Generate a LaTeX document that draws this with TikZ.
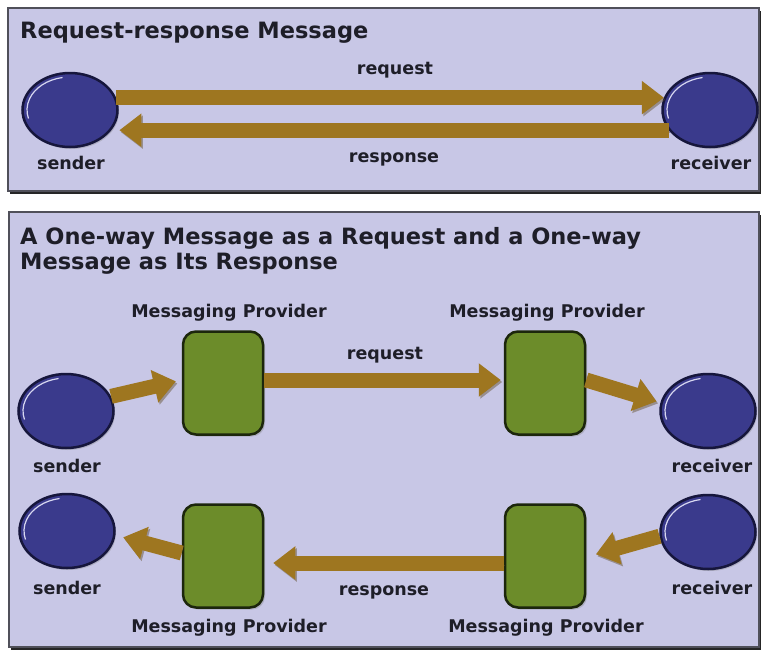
\documentclass[tikz,border=0pt]{standalone}
\usepackage{fontspec}
\setmainfont{DejaVu Sans}
\usetikzlibrary{arrows.meta,shadows,shapes.geometric}
\definecolor{panelbg}{RGB}{200,199,230}
\definecolor{paneledge}{RGB}{80,80,90}
\definecolor{endfill}{RGB}{58,58,140}
\definecolor{endedge}{RGB}{22,22,60}
\definecolor{endshine}{RGB}{215,215,240}
\definecolor{provfill}{RGB}{108,140,42}
\definecolor{provedge}{RGB}{28,38,12}
\definecolor{arrowfill}{RGB}{158,118,32}
\definecolor{arrowshade}{RGB}{95,75,40}
\definecolor{inktext}{RGB}{30,30,40}
\tikzset{
  panel/.style={fill=panelbg,draw=paneledge,line width=1.2pt,drop shadow={shadow xshift=1.5pt,shadow yshift=-3pt,fill=black!85,opacity=1}},
  endpoint/.style={ellipse,minimum width=95pt,minimum height=74pt,inner sep=0pt,fill=endfill,draw=endedge,line width=2.5pt,drop shadow={shadow xshift=1.5pt,shadow yshift=-2pt,opacity=.35}},
  provider/.style={rectangle,rounded corners=13pt,minimum width=80pt,minimum height=103pt,fill=provfill,draw=provedge,line width=2.5pt,drop shadow={shadow xshift=2pt,shadow yshift=-2pt,opacity=.35}},
  flow/.style={draw=arrowfill,line width=15pt,-{Triangle[width=32pt,length=22pt]},preaction={draw=arrowshade,opacity=.45,transform canvas={shift={(1.5pt,-2pt)}}}},
  title/.style={font=\bfseries\fontsize{22.5}{25}\selectfont,text=inktext,inner sep=0pt},
  tag/.style={font=\bfseries\fontsize{17.5}{20}\selectfont,text=inktext,inner sep=0pt}
}
\newcommand{\shine}[1]{\draw[endshine,line width=1.2pt] ([shift={(100:43pt and 33pt)}]#1.center) arc[start angle=100,end angle=195,x radius=43pt,y radius=33pt];}

\begin{document}
\begin{tikzpicture}[x=1pt,y=-1pt]
\useasboundingbox (0,0) rectangle (766,654);
\fill[white] (0,0) rectangle (766,654);
\draw[panel] (8,8) rectangle (759,191);
\draw[panel] (9,212) rectangle (759,647);
\node[title,anchor=base west] (t1) at (20,38) {Request-response Message};
\node[title,anchor=north west,align=left] (t2) at (20,227) {A One-way Message as a Request and a One-way\\Message as Its Response};
\node[endpoint] (s1) at (70,110) {}; \shine{s1}
\node[endpoint] (r1) at (710,110) {}; \shine{r1}
\draw[flow] (s1.15) -- (r1.165);
\draw[flow,shorten >=8pt] (r1.206) -- (s1.-26);
\node[tag] (l1) at (71,163) {sender}; \node[tag] (l2) at (711,163) {receiver};
\node[tag] (l3) at (395,70) {request}; \node[tag] (l4) at (394,159) {response};
\node[endpoint] (s2) at (66,411) {}; \shine{s2}
\node[provider] (p1) at (223,383) {};
\node[provider] (p2) at (545,383) {};
\node[endpoint] (r2) at (708,411) {}; \shine{r2}
\node[endpoint] (s3) at (67,531) {}; \shine{s3}
\node[provider] (p3) at (223,556) {};
\node[provider] (p4) at (545,556) {};
\node[endpoint] (r3) at (708,532) {}; \shine{r3}
\draw[flow,shorten >=6pt] (s2.18) -- ([yshift=3pt]p1.west);
\draw[flow,shorten >=3pt] ([yshift=3pt]p1.east) -- ([yshift=3pt]p2.west);
\draw[flow,shorten >=4pt] ([yshift=3pt]p2.east) -- (r2.170);
\draw[flow,shorten >=10pt] (r3.185) -- ([yshift=-1pt]p4.east);
\draw[flow,shorten >=9pt] ([yshift=-7pt]p4.west) -- ([yshift=-7pt]p3.east);
\draw[flow,shorten >=8pt] ([yshift=3pt]p3.west) -- (s3.-5);
\node[tag] (m1) at (229,313) {Messaging Provider}; \node[tag] (m2) at (547,313) {Messaging Provider};
\node[tag] (m3) at (229,628) {Messaging Provider}; \node[tag] (m4) at (546,628) {Messaging Provider};
\node[tag] (l5) at (385,355) {request}; \node[tag] (l6) at (384,592) {response};
\node[tag] (l7) at (67,466) {sender}; \node[tag] (l8) at (712,466) {receiver};
\node[tag] (l9) at (67,588) {sender}; \node[tag] (l10) at (712,588) {receiver};
\end{tikzpicture}
\end{document}
